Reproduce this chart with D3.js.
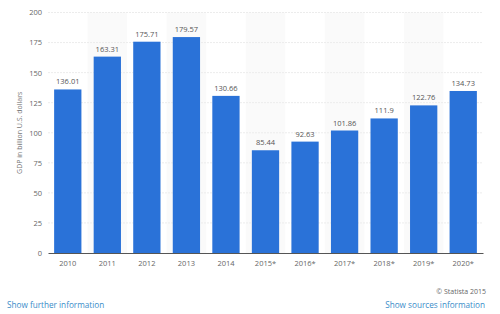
<!DOCTYPE html>
<html><head><meta charset="utf-8">
<script src="https://cdn.jsdelivr.net/npm/d3@7"></script>
<style>body{margin:0;background:#fff;}svg{display:block;font-family:"Open Sans",Roboto,sans-serif;}</style>
</head><body>
<svg id="c" width="500" height="314"></svg>
<script>
const categories = ["2010","2011","2012","2013","2014","2015*","2016*","2017*","2018*","2019*","2020*"];
const values = [136.01,163.31,175.71,179.57,130.66,85.44,92.63,101.86,111.9,122.76,134.73];
const valueLabels = ["136.01","163.31","175.71","179.57","130.66","85.44","92.63","101.86","111.9","122.76","134.73"];
const yTicks = [0,25,50,75,100,125,150,175,200];
const yTitle = "GDP in billion U.S. dollars";

const svg = d3.select("#c");
const m = {l:48, r:17, t:12.5, b:61};
const W = 500, H = 314;
const x = d3.scaleBand().domain(categories).range([m.l, W-m.r]).paddingInner(0.31).paddingOuter(0.155);
const xb = d3.scaleBand().domain(categories).range([m.l, W-m.r]);
const y = d3.scaleLinear().domain([0,200]).range([H-m.b, m.t]);

// alternating column shading
svg.append("g").selectAll("rect").data(categories.filter((d,i)=>i%2===1)).join("rect")
  .attr("x", d=>xb(d)).attr("width", xb.bandwidth())
  .attr("y", y(200)).attr("height", y(0)-y(200)).attr("fill","#fafafa");

// grid
svg.append("g").selectAll("line").data(yTicks.filter(d=>d>0)).join("line")
  .attr("x1", m.l).attr("x2", W-m.r).attr("y1", d=>y(d)).attr("y2", d=>y(d))
  .attr("stroke","#ececec").attr("stroke-width",1).attr("stroke-dasharray","2,1");

// y axis labels
const ya = svg.append("g").attr("transform",`translate(${m.l},0)`)
  .call(d3.axisLeft(y).tickValues(yTicks).tickSize(0).tickPadding(6));
ya.select(".domain").remove();
ya.selectAll("text").attr("fill","#666").style("font-size","7.5px").style("font-family","'Open Sans',sans-serif");

// bars
svg.append("g").selectAll("rect").data(values).join("rect")
  .attr("x",(d,i)=>x(categories[i])).attr("width",x.bandwidth())
  .attr("y",d=>y(d)).attr("height",d=>y(0)-y(d)).attr("fill","#2a72d8");

// value labels
svg.append("g").selectAll("text").data(values).join("text")
  .attr("x",(d,i)=>x(categories[i])+x.bandwidth()/2).attr("y",d=>y(d)-5)
  .attr("text-anchor","middle").attr("fill","#555").style("font-size","7.5px")
  .text((d,i)=>valueLabels[i]);

// x axis
const xa = svg.append("g").attr("transform",`translate(0,${y(0)})`)
  .call(d3.axisBottom(x).tickSize(0).tickPadding(8));
xa.select(".domain").attr("stroke","#555").attr("stroke-width",1);
xa.selectAll("text").attr("fill","#666").style("font-size","7.5px").style("font-family","'Open Sans',sans-serif");

// y title
svg.append("text").attr("transform",`translate(22,${(y(0)+y(200))/2}) rotate(-90)`)
  .attr("text-anchor","middle").attr("fill","#777").style("font-size","7px").text(yTitle);

// footer
svg.append("text").attr("x",486).attr("y",294).attr("text-anchor","end").attr("fill","#666").style("font-size","7px").text("© Statista 2015");
svg.append("text").attr("x",7).attr("y",308).attr("fill","#3a8dc9").style("font-size","8.2px").text("Show further information");
svg.append("text").attr("x",485).attr("y",308).attr("text-anchor","end").attr("fill","#3a8dc9").style("font-size","8.2px").text("Show sources information");
</script>
</body></html>
